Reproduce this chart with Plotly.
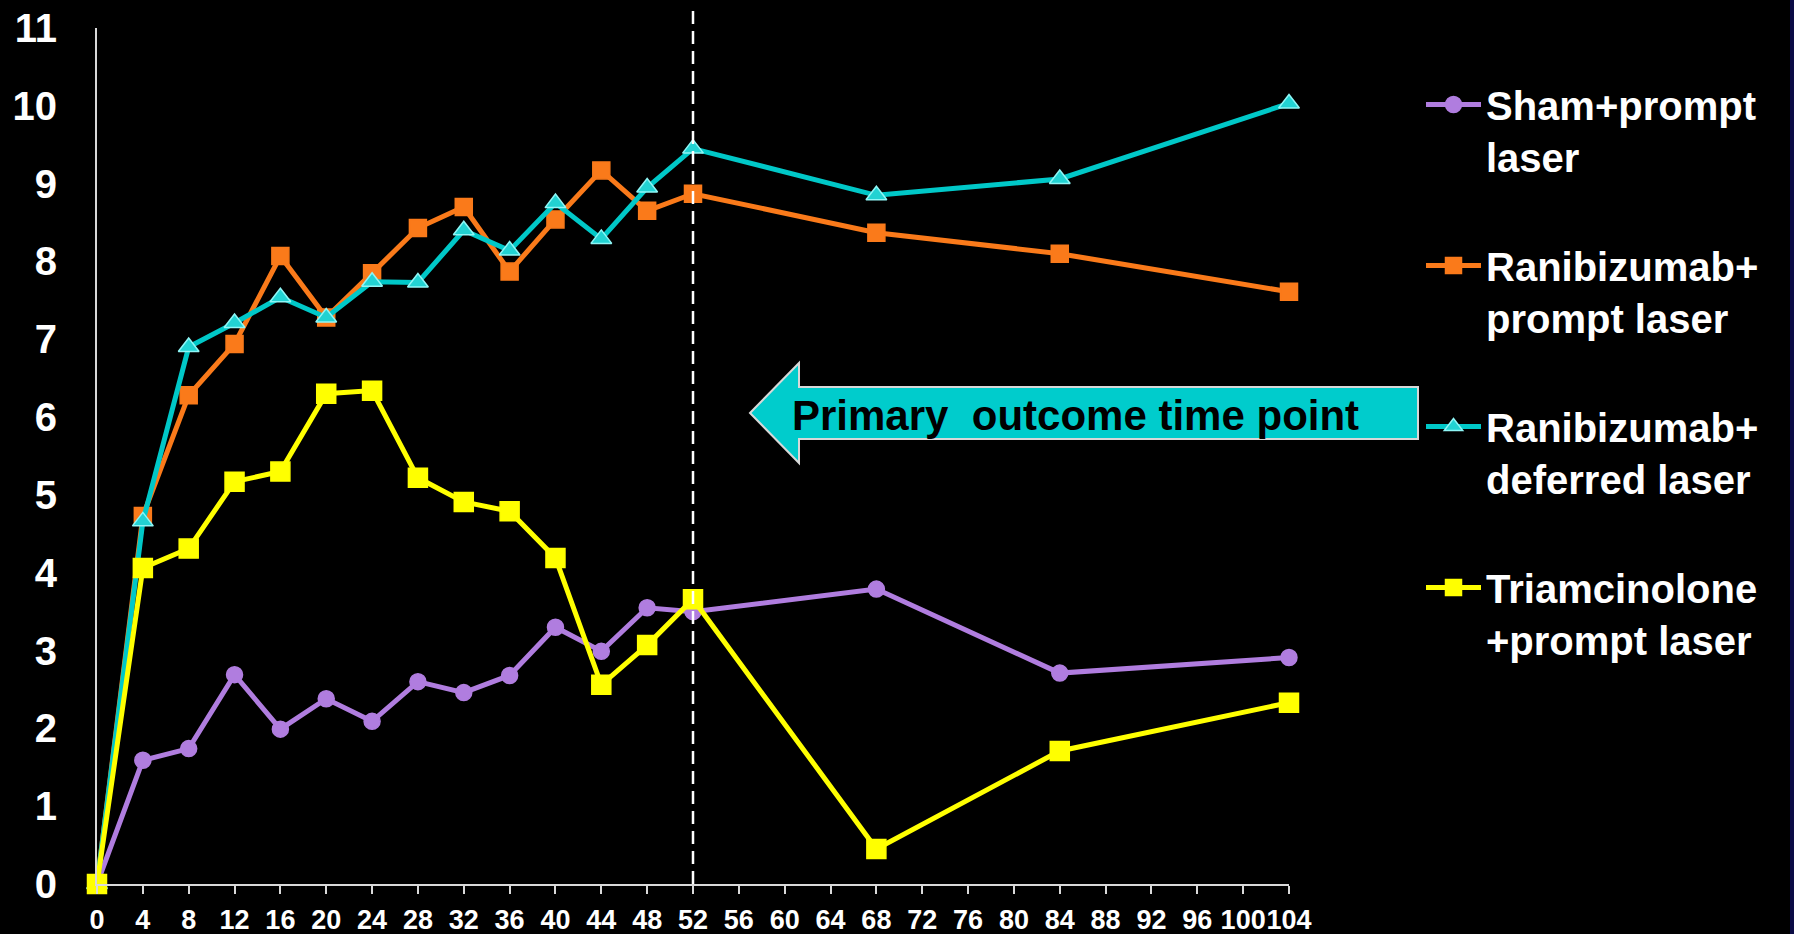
import plotly.graph_objects as go

# ---------------- data ----------------
weeks = [0, 4, 8, 12, 16, 20, 24, 28, 32, 36, 40, 44, 48, 52, 68, 84, 104]

sham_prompt = [0, 1.59, 1.74, 2.69, 1.99, 2.38, 2.09, 2.60, 2.46, 2.68, 3.30, 2.99, 3.55, 3.50, 3.79, 2.71, 2.91]
rani_prompt = [0, 4.73, 6.28, 6.94, 8.07, 7.28, 7.85, 8.43, 8.70, 7.87, 8.54, 9.17, 8.65, 8.87, 8.37, 8.10, 7.61]
rani_deferred = [0, 4.66, 6.90, 7.21, 7.54, 7.28, 7.74, 7.73, 8.40, 8.14, 8.75, 8.29, 8.95, 9.45, 8.85, 9.06, 10.03]
triam_prompt = [0, 4.06, 4.31, 5.17, 5.30, 6.30, 6.34, 5.22, 4.91, 4.79, 4.19, 2.56, 3.07, 3.66, 0.45, 1.71, 2.33]

series_names = [
    "Sham+prompt<br>laser",
    "Ranibizumab+<br>prompt laser",
    "Ranibizumab+<br>deferred laser",
    "Triamcinolone<br>+prompt laser",
]

x_ticks = list(range(0, 105, 4))
y_ticks = list(range(0, 12))
primary_week = 52
arrow_text = "Primary  outcome time point"

# ---------------- layout geometry ----------------
W, H = 1794, 934
L, R, T, B = 97, 1289, 28, 884  # plot area in pixels


def px_x(p):
    return (p - L) / (R - L)


def px_y(p):
    return (B - p) / (B - T)


FONT = "Arial, Liberation Sans, Helvetica, sans-serif"

fig = go.Figure()

styles = [
    dict(color="#b07ddf", symbol="circle", size=16, mcolor="#b07ddf", lcolor="#b07ddf"),
    dict(color="#fa7a1a", symbol="square", size=17, mcolor="#fa7a1a", lcolor="#fa7a1a"),
    dict(color="#00c8c8", symbol="triangle-up", size=18, mcolor="#22d2d2", lcolor="#8ff6f6"),
    dict(color="#ffff00", symbol="square", size=19, mcolor="#ffff00", lcolor="#ffff00"),
]

for i, (name, vals, st) in enumerate(zip(series_names,
                                         [sham_prompt, rani_prompt, rani_deferred, triam_prompt],
                                         styles)):
    fig.add_trace(go.Scatter(
        x=weeks, y=vals, name=name, mode="lines+markers",
        legendgroup=f"g{i}",
        line=dict(color=st["color"], width=5),
        marker=dict(symbol=st["symbol"], size=st["size"], color=st["mcolor"],
                    line=dict(color=st["lcolor"], width=1.5)),
        cliponaxis=False,
    ))

shapes = []
# vertical dashed line at primary outcome week
shapes.append(dict(type="line", xref="paper", yref="paper",
                   x0=primary_week / 104, x1=primary_week / 104,
                   y0=0, y1=px_y(10),
                   line=dict(color="white", width=2.5, dash="13px,7px")))

# arrow (left-pointing block arrow)
pts = [(750, 413), (799, 363), (799, 387), (1418, 387), (1418, 439), (799, 439), (799, 463)]
path = "M " + " L ".join(f"{px_x(a):.5f},{px_y(b):.5f}" for a, b in pts) + " Z"
shapes.append(dict(type="path", xref="paper", yref="paper", path=path,
                   fillcolor="#00cccc", line=dict(color="#d8d8d8", width=2), layer="above"))

# thin navy strip on the right edge
shapes.append(dict(type="rect", xref="paper", yref="paper",
                   x0=px_x(1790), x1=px_x(1800), y0=px_y(940), y1=px_y(-5),
                   fillcolor="#0b0b45", line=dict(width=0), layer="below"))

annotations = [dict(
    xref="paper", yref="paper", x=px_x(1075), y=px_y(415),
    text=arrow_text, showarrow=False, xanchor="center", yanchor="middle",
    font=dict(family=FONT, size=42, color="black", weight="bold"),
)]

fig.update_layout(
    width=W, height=H,
    margin=dict(l=L, r=W - R, t=T, b=H - B, pad=0, autoexpand=False),
    paper_bgcolor="black", plot_bgcolor="black",
    showlegend=True,
    legend=dict(
        x=px_x(1421), y=px_y(72), xanchor="left", yanchor="top",
        font=dict(family=FONT, size=40, color="white", weight="bold"),
        bgcolor="rgba(0,0,0,0)", tracegroupgap=54, valign="top",
        itemwidth=55,
    ),
    shapes=shapes,
    annotations=annotations,
    xaxis=dict(
        range=[0, 104], tickmode="array", tickvals=x_ticks,
        ticktext=[str(v) for v in x_ticks], tickangle=0, automargin=False,
        showgrid=False, zeroline=False, showline=True, linecolor="#d9d9d9", linewidth=2,
        ticks="outside", ticklen=8, tickwidth=2, tickcolor="#d9d9d9",
        ticklabelstandoff=3,
        tickfont=dict(family=FONT, size=27, color="white", weight="bold"),
    ),
    yaxis=dict(
        range=[0, 11], tickmode="array", tickvals=y_ticks, automargin=False,
        showgrid=False, zeroline=False, showline=True, linecolor="#d9d9d9", linewidth=2,
        ticks="", ticklabelstandoff=30,
        tickfont=dict(family=FONT, size=40, color="white", weight="bold"),
    ),
)

fig.write_html(
    "out.html",
    config={"displayModeBar": False},
    post_script="document.body.style.margin='0px';document.body.style.overflow='hidden';"
                "document.documentElement.style.background='black';",
)
